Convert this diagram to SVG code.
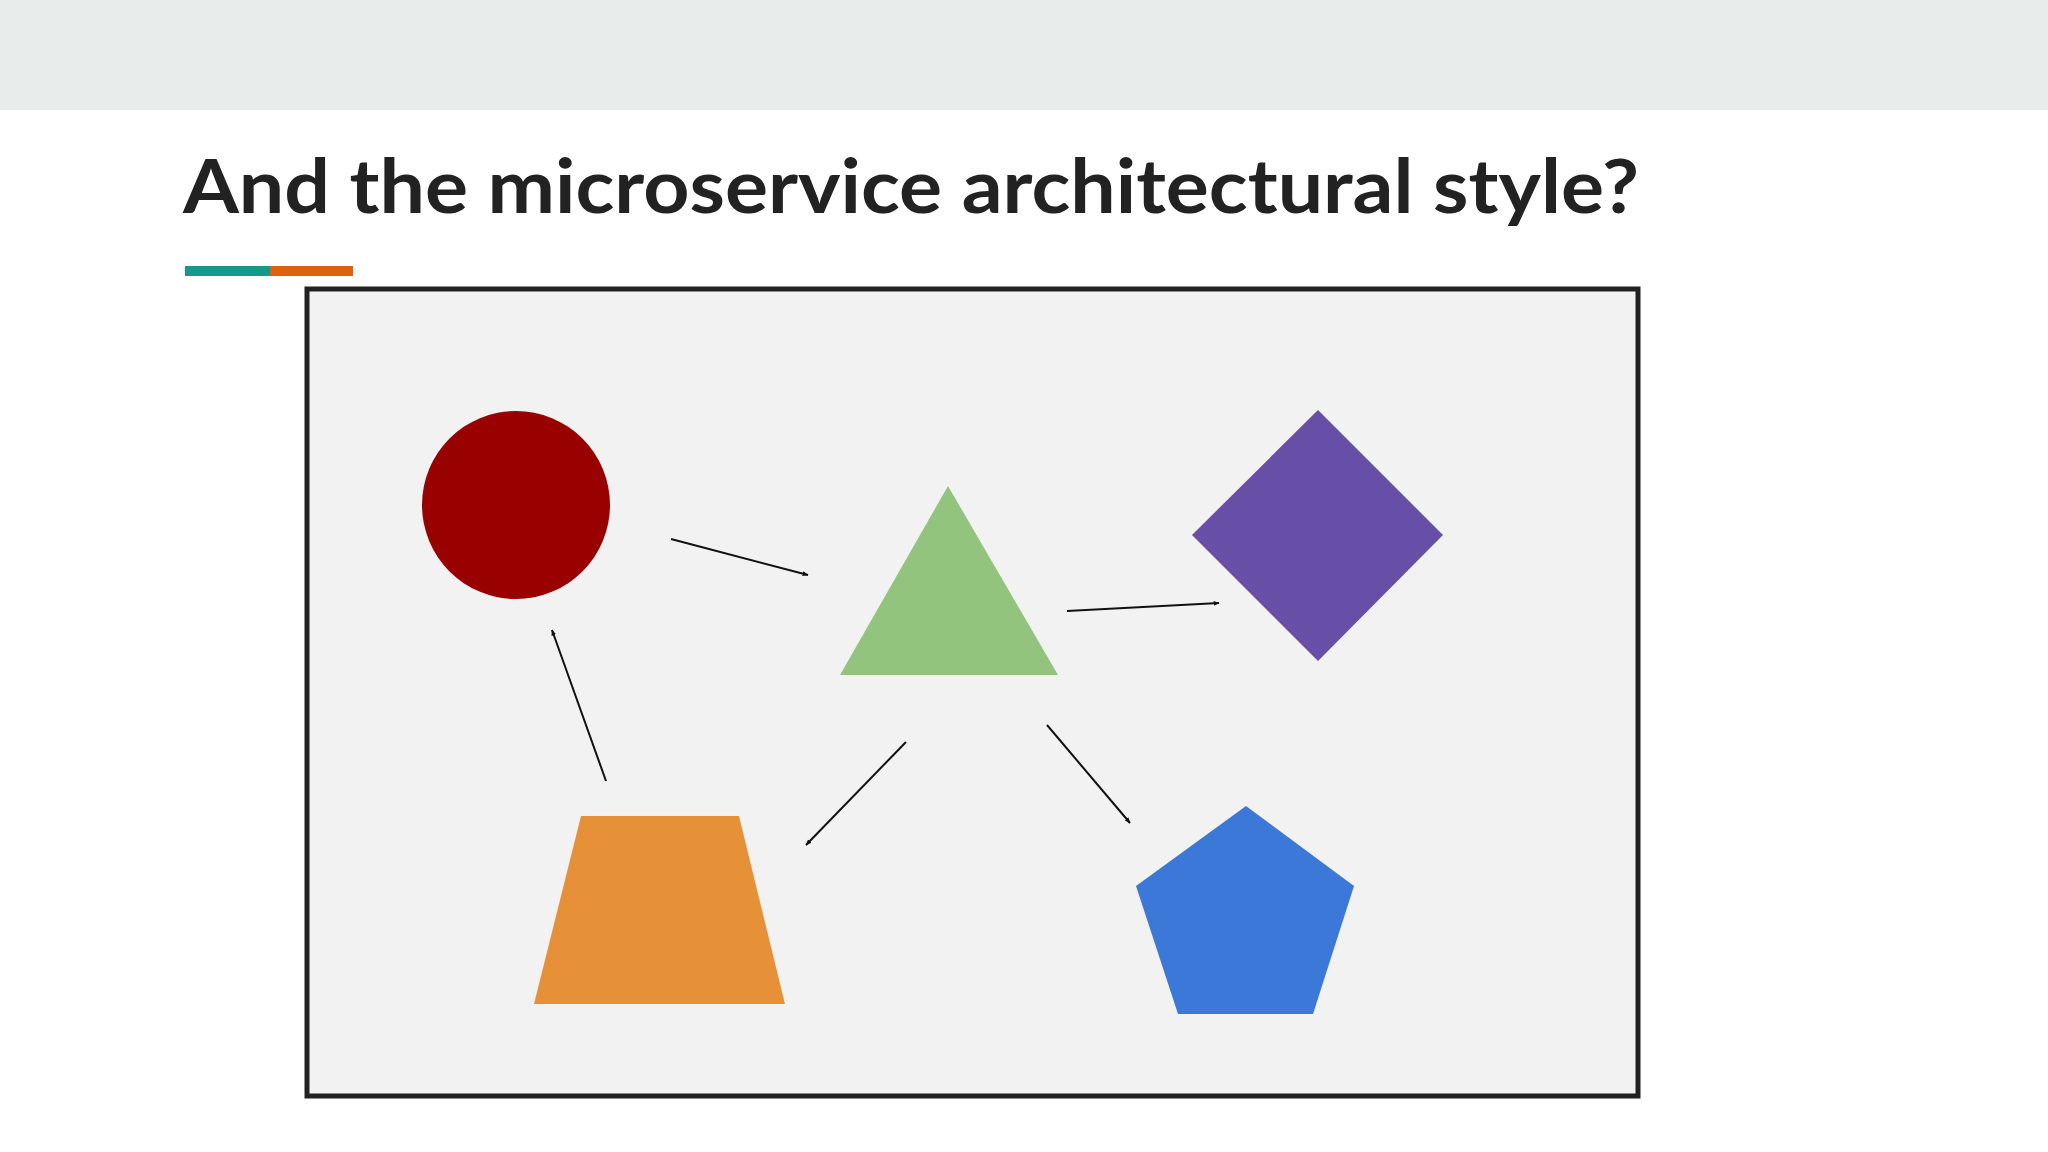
<svg xmlns="http://www.w3.org/2000/svg" width="2048" height="1152" viewBox="0 0 2048 1152">
<defs>
<style>
.c{stroke:#111;stroke-width:2;fill:none;marker-end:url(#ah)}
</style>
<marker id="ah" viewBox="0 0 10 10" refX="9" refY="5" markerWidth="6" markerHeight="6" orient="auto" markerUnits="userSpaceOnUse"><path d="M0,1 L10,5 L0,9 z" fill="#111"/></marker>
</defs>
<rect width="2048" height="1152" fill="#ffffff"/>
<rect width="2048" height="110" fill="#e8edeb"/>
<text x="183" y="213" font-family="Lato, 'Noto Sans', sans-serif" font-weight="bold" font-size="74" fill="#222" textLength="1456" lengthAdjust="spacingAndGlyphs">And the microservice architectural style?</text>
<rect x="185" y="266" width="85" height="10" fill="#16998a"/>
<rect x="270" y="266" width="83" height="10" fill="#e0600f"/>
<rect x="307" y="289" width="1331" height="807" fill="#f3f2f3" stroke="#222" stroke-width="5"/>
<g id="circle"><circle cx="516" cy="505" r="94" fill="#990000"/></g>
<g id="triangle"><polygon points="948,486 840,675 1058,675" fill="#93c47d"/></g>
<g id="diamond"><polygon points="1318,410 1443,535 1318,661 1192,535" fill="#674ea7"/></g>
<g id="trapezoid"><polygon points="581,816 739,816 785,1004 534,1004" fill="#e69138"/></g>
<g id="pentagon"><polygon points="1246,806 1354,886 1313,1014 1178,1014 1136,886" fill="#3c78d8"/></g>
<g id="connectors">
<line class="c" x1="671" y1="539" x2="808" y2="575"/>
<line class="c" x1="1067" y1="611" x2="1219" y2="603"/>
<line class="c" x1="906" y1="742" x2="806" y2="845"/>
<line class="c" x1="1047" y1="725" x2="1130" y2="823"/>
<line class="c" x1="606" y1="781" x2="552" y2="630"/>
</g>
</svg>
